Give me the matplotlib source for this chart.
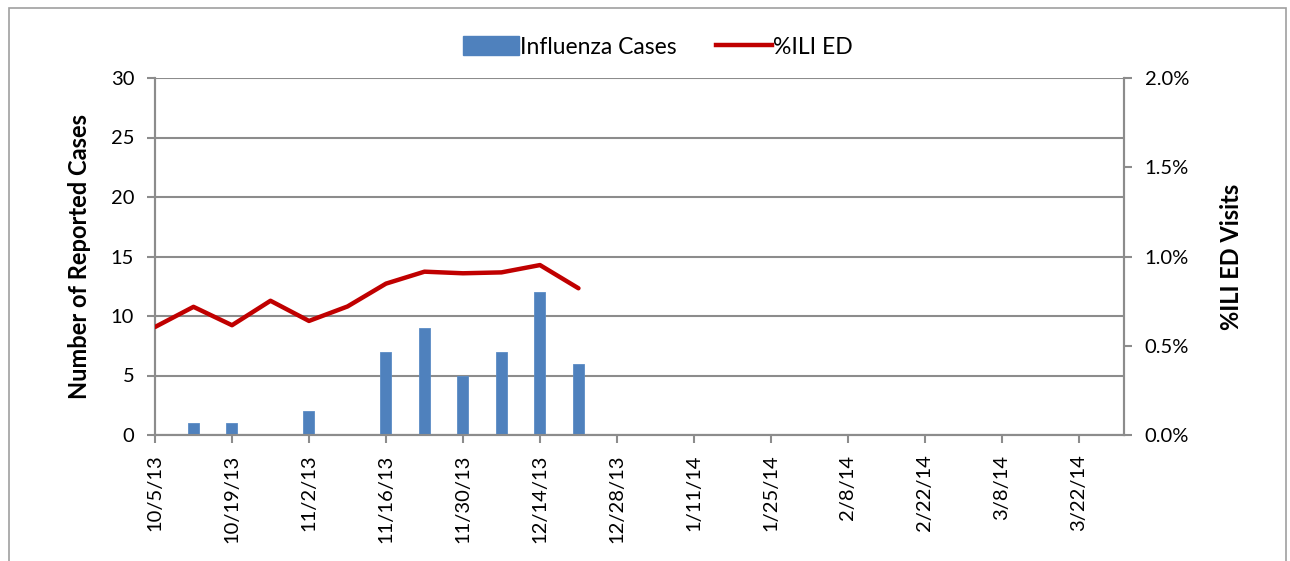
import matplotlib.pyplot as plt
import matplotlib.dates as mdates
import matplotlib.patches as mpatches
from matplotlib.ticker import FuncFormatter
import numpy as np
import datetime as dt

plt.rcParams['font.family'] = ['Lato', 'DejaVu Sans']

# weekly data
weeks = ["10/5/13", "10/12/13", "10/19/13", "10/26/13", "11/2/13", "11/9/13",
         "11/16/13", "11/23/13", "11/30/13", "12/7/13", "12/14/13", "12/21/13"]
flu_cases = [0, 1, 1, 0, 2, 0, 7, 9, 5, 7, 12, 6]
ili_pct = [0.605, 0.718, 0.615, 0.752, 0.639, 0.720, 0.848, 0.915, 0.906, 0.911, 0.952, 0.822]

tick_labels = ["10/5/13", "10/19/13", "11/2/13", "11/16/13", "11/30/13", "12/14/13",
               "12/28/13", "1/11/14", "1/25/14", "2/8/14", "2/22/14", "3/8/14", "3/22/14"]

def to_date(s):
    return dt.datetime.strptime(s, "%m/%d/%y")

dates = [to_date(w) for w in weeks]
tick_dates = [to_date(t) for t in tick_labels]

grid_col = '#8C8C8C'
bar_col = '#4F81BD'
line_col = '#C00000'

fig = plt.figure(figsize=(12.9, 5.61), dpi=100)
ax = fig.add_axes([155/1290, 1 - 435/561, (1124 - 155)/1290, (435 - 78)/561])
ax2 = ax.twinx()

# bars on left axis
ax.bar(dates, flu_cases, width=2.0, color=bar_col, edgecolor='#5B8CC6',
       linewidth=0.6, zorder=3, label='Influenza Cases')
ax.set_ylim(0, 30)
ax.set_yticks(np.arange(0, 31, 5))
ax.yaxis.grid(True, color=grid_col, linewidth=1.5, zorder=0)
ax.set_axisbelow(True)

# line on right axis
ax2.plot(dates, ili_pct, color=line_col, linewidth=3.2, solid_capstyle='round',
         label='%ILI ED', zorder=4)
ax2.set_ylim(0, 2.0)
ax2.set_yticks(np.arange(0, 2.01, 0.5))
ax2.yaxis.set_major_formatter(FuncFormatter(lambda v, p: "%.1f%%" % v))

ax.set_xlim(mdates.date2num(to_date("10/5/13")), mdates.date2num(to_date("3/30/14")) + 0.2)
ax.set_xticks(tick_dates)
ax.set_xticklabels(tick_labels, rotation=90, va='top', ha='center')

for a in (ax, ax2):
    a.spines['top'].set_visible(False)
    for s in ('left', 'right', 'bottom'):
        a.spines[s].set_color(grid_col)
        a.spines[s].set_linewidth(1.5)
    a.tick_params(axis='both', colors=grid_col, labelcolor='black', labelsize=14.5,
                  length=6, width=1.5, direction='out')
ax.tick_params(axis='y', pad=9)
ax2.tick_params(axis='y', pad=9)
ax.tick_params(axis='x', pad=8)

ax.set_ylabel('Number of Reported Cases', fontsize=17, fontweight='bold', labelpad=14)
ax2.set_ylabel('%ILI ED Visits', fontsize=17, fontweight='bold', labelpad=22, rotation=90)

handles = [mpatches.Patch(color=bar_col), plt.Line2D([], [], color=line_col, linewidth=3.2)]
fig.legend(handles, ['Influenza Cases', '%ILI ED'], loc='center', ncol=2,
           bbox_to_anchor=(658/1290, 1 - 47/561), frameon=False, fontsize=16.5,
           handlelength=2.45, handleheight=0.85, handletextpad=0.05, columnspacing=1.7)

# outer chart frame
fig.patches.append(mpatches.Rectangle((9/1290, -0.05), (1286 - 9)/1290, 1 - 8/561 + 0.05,
                                      transform=fig.transFigure, fill=False,
                                      edgecolor='#A0A0A0', linewidth=1.2))

fig.savefig('out.png', dpi=100)
